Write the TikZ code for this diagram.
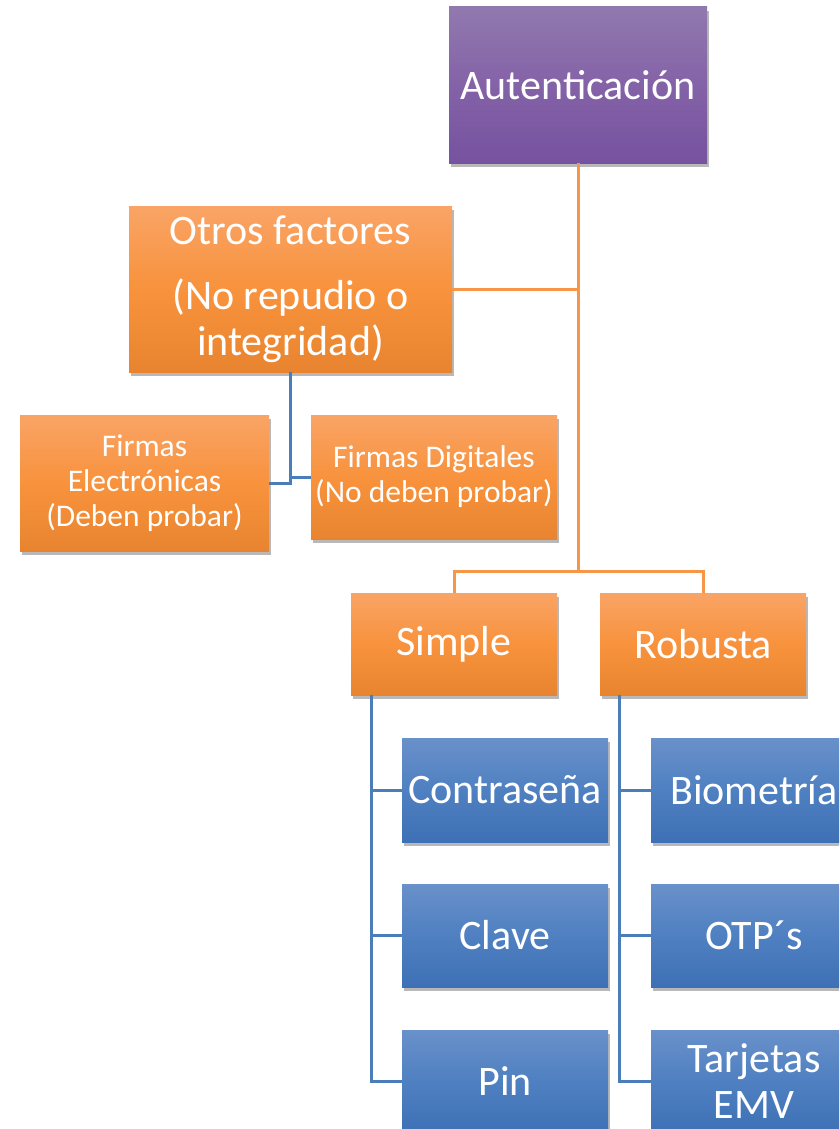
\documentclass[tikz,border=0pt]{standalone}
\usepackage{fontspec}
\setmainfont{Carlito}
\usetikzlibrary{shadows}
\definecolor{purT}{HTML}{9179AF}
\definecolor{purM}{HTML}{8462A7}
\definecolor{purB}{HTML}{7652A0}
\definecolor{orT}{HTML}{F9A466}
\definecolor{orM}{HTML}{F8923D}
\definecolor{orB}{HTML}{E8842F}
\definecolor{blT}{HTML}{6991CA}
\definecolor{blM}{HTML}{4F80C1}
\definecolor{blB}{HTML}{3D70B5}
\definecolor{orLine}{HTML}{F79646}
\definecolor{blLine}{HTML}{4A7EBB}
\tikzset{
  box/.style={rectangle, inner sep=0pt, text=white, align=center,
    font=\fontsize{42pt}{46pt}\selectfont,
    drop shadow={shadow xshift=2pt, shadow yshift=-4pt, fill=black, opacity=0.28}},
  purbox/.style={box, top color=purT, bottom color=purB, middle color=purM},
  orbox/.style={box, top color=orT, bottom color=orB, middle color=orM},
  blbox/.style={box, top color=blT, bottom color=blB, middle color=blM},
  smalltext/.style={font=\fontsize{31.5pt}{35pt}\selectfont},
  oline/.style={draw=orLine, line width=3pt},
  bline/.style={draw=blLine, line width=3pt},
}
\begin{document}
\begin{tikzpicture}[x=1pt,y=-1pt]
\useasboundingbox (0,0) rectangle (839,1129);
\clip (0,0) rectangle (839,1129);
\coordinate (j2) at (578,571);
\node[purbox, minimum width=258pt, minimum height=156pt] (aut) at (578,85) {Autenticación};
\node[orbox, minimum width=323pt, minimum height=166pt] (otros) at (290.5,289) {Otros factores\\[19pt](No repudio o\\integridad)};
\node[orbox, smalltext, minimum width=249pt, minimum height=136pt] (fe) at (144.5,483) {Firmas\\Electrónicas\\(Deben probar)};
\node[orbox, smalltext, minimum width=246pt, minimum height=124pt] (fd) at (434,477) {Firmas Digitales\\(No deben probar)};
\node[orbox, minimum width=206pt, minimum height=102pt] (simple) at (454,644) {Simple};
\node[orbox, minimum width=206pt, minimum height=102pt] (robusta) at (703,644) {Robusta};
\node[blbox, minimum width=206pt, minimum height=104pt] (contra) at (505,790) {Contraseña};
\node[blbox, minimum width=206pt, minimum height=103pt] (clave) at (505,935.5) {Clave};
\node[blbox, minimum width=206pt, minimum height=103pt] (pin) at (505,1081.5) {Pin};
\node[blbox, minimum width=206pt, minimum height=104pt] (bio) at (754,790) {Biometría};
\node[blbox, minimum width=206pt, minimum height=103pt] (otp) at (754,935.5) {OTP´s};
\node[blbox, minimum width=206pt, minimum height=103pt] (emv) at (754,1081.5) {Tarjetas\\EMV};
% orange connectors
\draw[oline] (aut.south) -- (j2);
\draw[oline] (otros.east) -- (otros.east -| aut.south);
\draw[oline] (simple.north) |- (j2) -| (robusta.north);
% blue connectors
\draw[bline] (otros.south) |- (fe.east);
\draw[bline] (otros.south) |- (fd.west);
\coordinate (sv) at ([xshift=21pt]simple.south west);
\coordinate (rv) at ([xshift=20pt]robusta.south west);
\draw[bline] (sv) |- (contra.west);
\draw[bline] (sv) |- (clave.west);
\draw[bline] (sv) |- (pin.west);
\draw[bline] (rv) |- (bio.west);
\draw[bline] (rv) |- (otp.west);
\draw[bline] (rv) |- (emv.west);
\end{tikzpicture}
\end{document}
